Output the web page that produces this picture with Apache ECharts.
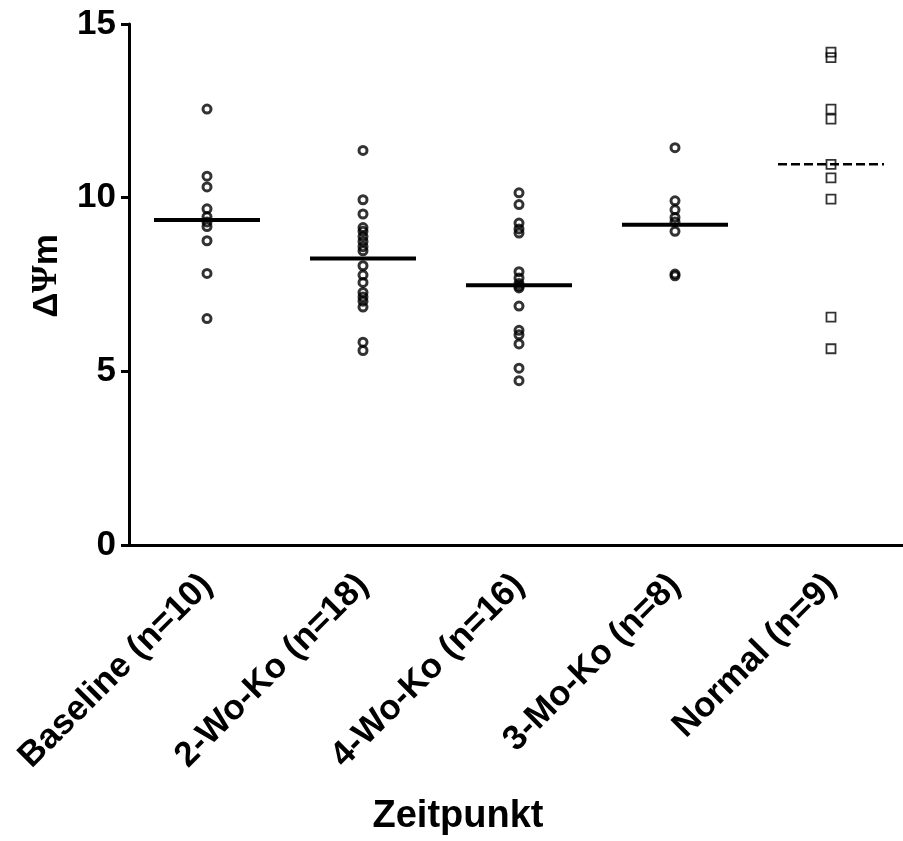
<!DOCTYPE html>
<html>
<head>
<meta charset="utf-8">
<script src="https://cdn.jsdelivr.net/npm/echarts@6/dist/echarts.min.js"></script>
<style>
  html, body { margin: 0; padding: 0; background: #fff; }
  #container { width: 903px; height: 841px; }
</style>
</head>
<body>
<div id="container"></div>
<script>
let dom = document.getElementById("container");
let myChart = echarts.init(dom);

// groups on the x axis
const categories = ['Baseline (n=10)', '2-Wo-Ko (n=18)', '4-Wo-Ko (n=16)', '3-Mo-Ko (n=8)', 'Normal (n=9)'];
const yTicks = [0, 5, 10, 15];

// values per group
const baseline = [12.55, 10.62, 10.31, 9.68, 9.45, 9.3, 9.17, 8.76, 7.82, 6.52];
const woKo2 = [11.36, 9.94, 9.53, 9.14, 9.03, 8.88, 8.74, 8.59, 8.47, 8.04, 7.77, 7.56, 7.27, 7.14, 7.02, 6.85, 5.84, 5.6];
const woKo4 = [10.14, 9.8, 9.27, 9.1, 8.98, 7.87, 7.69, 7.53, 7.45, 7.4, 6.88, 6.18, 6.05, 5.79, 5.09, 4.73];
const moKo3 = [11.44, 9.91, 9.65, 9.43, 9.3, 9.03, 7.8, 7.75];
const normal = [14.19, 14.03, 12.55, 12.26, 10.96, 10.57, 9.96, 6.56, 5.65];

// group means (horizontal bars)
const means = [9.36, 8.25, 7.48, 9.22, 10.96];

const groups = [baseline, woKo2, woKo4, moKo3];

let circleData = [];
groups.forEach(function (vals, i) {
    vals.forEach(function (v) {
        circleData.push([i, v]);
    });
});
let squareData = normal.map(function (v) { return [4, v]; });

const font = 'Liberation Sans, Arial, sans-serif';

let option = {
    animation: false,
    backgroundColor: '#fff',
    grid: {
        left: 129,
        top: 24,
        width: 780,
        height: 521,
        outerBoundsMode: 'none',
        containLabel: false
    },
    graphic: [
        {
            type: 'text',
            x: 458,
            y: 817,
            style: {
                text: 'Zeitpunkt',
                font: 'bold 38px ' + font,
                fill: '#000',
                align: 'center',
                verticalAlign: 'middle'
            }
        },
        {
            type: 'text',
            x: 47,
            y: 276,
            rotation: Math.PI / 2,
            style: {
                text: '{a|Δ}{b|Ψ}{a|m}',
                align: 'center',
                verticalAlign: 'middle',
                rich: {
                    a: { fontFamily: font, fontWeight: 'bold', fontSize: 35, fill: '#000' },
                    b: { fontFamily: 'Liberation Serif, DejaVu Serif, serif', fontWeight: 'bold', fontSize: 35, fill: '#000' }
                }
            }
        }
    ],
    xAxis: {
        type: 'category',
        data: categories,
        boundaryGap: true,
        axisLine: { lineStyle: { color: '#000', width: 3 } },
        axisTick: {
            alignWithLabel: true,
            length: 8,
            lineStyle: { color: '#000', width: 3 }
        },
        axisLabel: {
            rotate: 45,
            margin: 35,
            fontFamily: font,
            fontWeight: 'bold',
            fontSize: 35,
            color: '#000',
            interval: 0
        },
        splitLine: { show: false }
    },
    yAxis: {
        type: 'value',
        min: 0,
        max: 15,
        interval: 5,
        axisLine: { show: true, lineStyle: { color: '#000', width: 3 } },
        axisTick: { show: true, length: 8, lineStyle: { color: '#000', width: 3 } },
        axisLabel: {
            margin: 13,
            fontFamily: font,
            fontWeight: 'bold',
            fontSize: 35,
            color: '#000',
            formatter: function (v) {
                return yTicks.indexOf(v) >= 0 ? String(v) : '';
            }
        },
        splitLine: { show: false }
    },
    series: [
        {
            type: 'scatter',
            data: circleData,
            symbol: 'circle',
            symbolSize: 8,
            itemStyle: {
                color: 'rgba(255,255,255,0)',
                borderColor: '#000',
                borderWidth: 3
            },
            z: 3
        },
        {
            type: 'scatter',
            data: squareData,
            symbol: 'rect',
            symbolSize: 9,
            itemStyle: {
                color: 'rgba(255,255,255,0)',
                borderColor: '#000',
                borderWidth: 1.8
            },
            z: 3
        },
        {
            type: 'custom',
            data: means.map(function (m, i) { return [i, m]; }),
            renderItem: function (params, api) {
                let p = api.coord([api.value(0), api.value(1)]);
                let dashed = api.value(0) === 4;
                return {
                    type: 'line',
                    shape: { x1: p[0] - 53, y1: p[1], x2: p[0] + 53, y2: p[1] },
                    style: {
                        stroke: '#000',
                        lineWidth: dashed ? 2.5 : 4,
                        lineDash: dashed ? [9, 4] : null
                    }
                };
            },
            z: 4
        }
    ]
};

myChart.setOption(option);
</script>
</body>
</html>
